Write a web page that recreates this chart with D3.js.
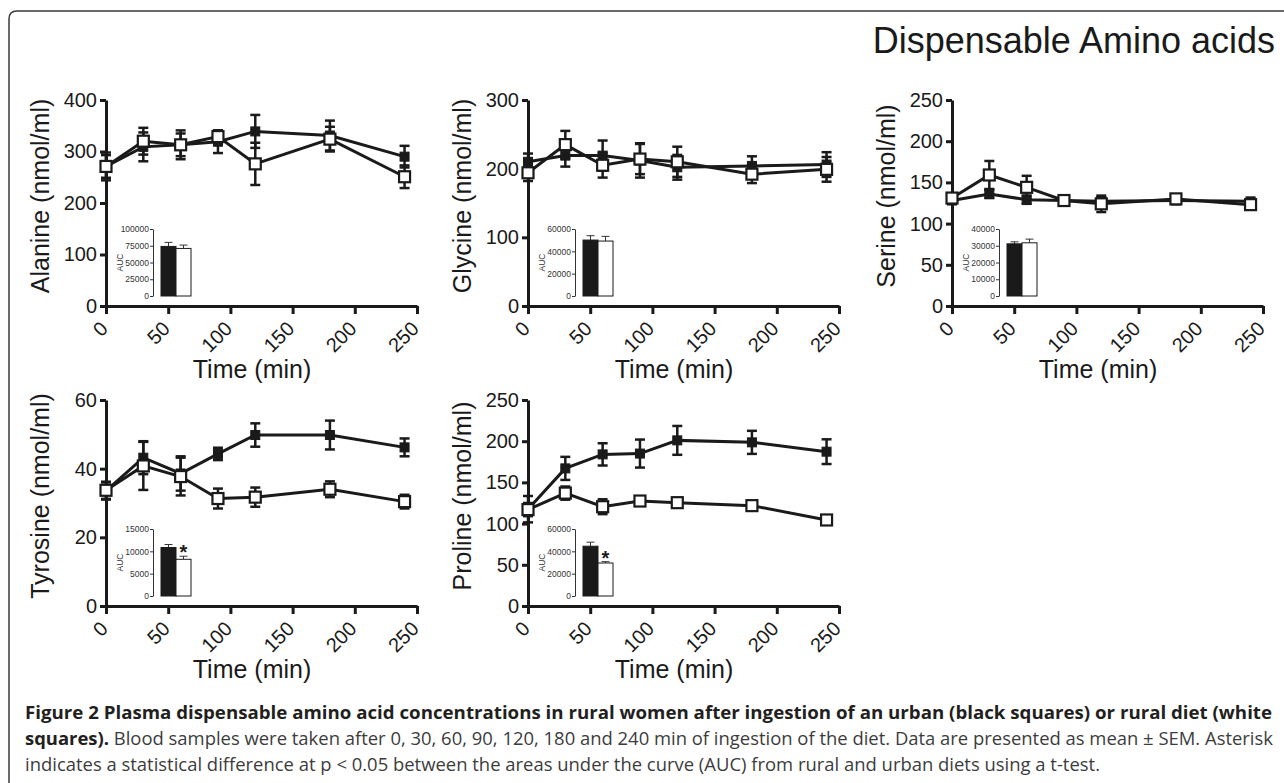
<!DOCTYPE html>
<html>
<head>
<meta charset="utf-8">
<script src="https://cdn.jsdelivr.net/npm/d3@7"></script>
<style>
  body { margin: 0; background: #fff; }
  svg { display: block; font-family: "Liberation Sans", Arial, sans-serif; }
</style>
</head>
<body>
<svg id="fig" width="1284" height="783"></svg>
<script>
// sampling times and axis ticks
const times = [0, 30, 60, 90, 120, 180, 240];
const timeTicks = [0, 50, 100, 150, 200, 250];

// plasma concentrations (nmol/ml), mean and SEM, urban = black, rural = white
const alanineUrban = [271, 309, 313, 319, 339, 331, 290];
const alanineUrbanSem = [27, 28, 22, 22, 32, 29, 21];
const alanineRural = [271, 320, 313, 329, 276, 324, 251];
const alanineRuralSem = [22, 26, 28, 12, 41, 24, 22];

const glycineUrban = [210, 219, 219, 212, 202, 204, 206];
const glycineUrbanSem = [12, 16, 22, 25, 18, 14, 18];
const glycineRural = [194, 235, 205, 214, 210, 192, 199];
const glycineRuralSem = [12, 20, 18, 22, 22, 13, 18];

const serineUrban = [128, 136, 129, 128, 127, 128, 127];
const serineUrbanSem = [3, 5, 5, 3, 5, 3, 3];
const serineRural = [131, 159, 144, 128, 124, 130, 123];
const serineRuralSem = [3, 17, 14, 4, 10, 3, 4];

const tyrosineUrban = [33.5, 43.2, 38.6, 44.3, 49.8, 49.8, 46.2];
const tyrosineUrbanSem = [2.5, 4.8, 5, 1.8, 3.4, 4.2, 2.6];
const tyrosineRural = [33.7, 40.8, 37.7, 31.3, 31.7, 34, 30.4];
const tyrosineRuralSem = [2.5, 7, 5.5, 2.9, 2.8, 2.3, 2];

const prolineUrban = [117.5, 167, 184, 185, 201, 198.6, 187.3];
const prolineUrbanSem = [16, 14, 13.5, 17, 17.5, 14, 15];
const prolineRural = [117, 137, 120.5, 127.4, 125.4, 121.8, 104.4];
const prolineRuralSem = [8, 8, 9, 3, 2, 3, 5];

// areas under the curve [urban, rural] and their SEM
const diets = ['urban', 'rural'];
const alanineAuc = [74000, 71000], alanineAucSem = [6000, 5000];
const glycineAuc = [50100, 49200], glycineAucSem = [3900, 4200];
const serineAuc = [31150, 31760], serineAucSem = [1200, 2200];
const tyrosineAuc = [10850, 8215], tyrosineAucSem = [680, 690];
const prolineAuc = [44600, 29550], prolineAucSem = [3600, 1200];

// tick labels
const alanineTicks = [0, 100, 200, 300, 400];
const glycineTicks = [0, 100, 200, 300];
const serineTicks = [0, 50, 100, 150, 200, 250];
const tyrosineTicks = [0, 20, 40, 60];
const prolineTicks = [0, 50, 100, 150, 200, 250];
const alanineAucTicks = [0, 25000, 50000, 75000, 100000];
const glycineAucTicks = [0, 20000, 40000, 60000];
const serineAucTicks = [0, 10000, 20000, 30000, 40000];
const tyrosineAucTicks = [0, 5000, 10000, 15000];
const prolineAucTicks = [0, 20000, 40000, 60000];
const significant = [false, false, false, true, true];

const panels = [
  { name: 'Alanine', urban: alanineUrban, urbanSem: alanineUrbanSem, rural: alanineRural, ruralSem: alanineRuralSem,
    ticks: alanineTicks, auc: alanineAuc, aucSem: alanineAucSem, aucTicks: alanineAucTicks },
  { name: 'Glycine', urban: glycineUrban, urbanSem: glycineUrbanSem, rural: glycineRural, ruralSem: glycineRuralSem,
    ticks: glycineTicks, auc: glycineAuc, aucSem: glycineAucSem, aucTicks: glycineAucTicks },
  { name: 'Serine', urban: serineUrban, urbanSem: serineUrbanSem, rural: serineRural, ruralSem: serineRuralSem,
    ticks: serineTicks, auc: serineAuc, aucSem: serineAucSem, aucTicks: serineAucTicks },
  { name: 'Tyrosine', urban: tyrosineUrban, urbanSem: tyrosineUrbanSem, rural: tyrosineRural, ruralSem: tyrosineRuralSem,
    ticks: tyrosineTicks, auc: tyrosineAuc, aucSem: tyrosineAucSem, aucTicks: tyrosineAucTicks },
  { name: 'Proline', urban: prolineUrban, urbanSem: prolineUrbanSem, rural: prolineRural, ruralSem: prolineRuralSem,
    ticks: prolineTicks, auc: prolineAuc, aucSem: prolineAucSem, aucTicks: prolineAucTicks },
];
panels.forEach((p, i) => { p.star = significant[i]; });

const ink = '#1a1a1a';
const colX = [106, 528, 952];
const rowY = [306, 606];
const plotW = 311, plotH = 206;

const svg = d3.select('#fig');

// rounded frame, clipped on the right and bottom
svg.append('path')
  .attr('d', 'M9,800 L9,19 Q9,11 17,11 L1300,11')
  .attr('fill', 'none')
  .attr('stroke', '#3a3a3a')
  .attr('stroke-width', 1.5);

svg.append('text')
  .attr('x', 1275).attr('y', 53)
  .attr('text-anchor', 'end')
  .attr('font-size', 36)
  .attr('fill', ink)
  .text('Dispensable Amino acids');

function drawPanel(p, x0, y0) {
  const g = svg.append('g');
  const x = d3.scaleLinear().domain([0, 250]).range([x0, x0 + plotW]);
  const y = d3.scaleLinear().domain([0, d3.max(p.ticks)]).range([y0, y0 - plotH]);

  // x axis
  const gx = g.append('g')
    .attr('transform', `translate(0,${y0})`)
    .call(d3.axisBottom(x).tickValues(timeTicks).tickSize(8).tickSizeOuter(0).tickFormat(''));
  gx.selectAll('text').remove();
  g.selectAll('.xlab')
    .data(timeTicks)
    .join('text')
    .attr('class', 'xlab')
    .attr('transform', d => `translate(${x(d) + 3},${y0 + 24}) rotate(-45)`)
    .attr('text-anchor', 'end')
    .attr('font-size', 20)
    .attr('fill', ink)
    .text(d => d);

  // y axis
  const gy = g.append('g')
    .attr('transform', `translate(${x0},0)`)
    .call(d3.axisLeft(y).tickValues(p.ticks).tickSize(6).tickPadding(3).tickSizeOuter(0));
  gy.attr('font-size', 20);
  gy.selectAll('text').attr('fill', ink);

  [gx, gy].forEach(a => {
    a.attr('font-family', null);
    a.select('.domain').attr('stroke', ink).attr('stroke-width', 3);
    a.selectAll('.tick line').attr('stroke', ink).attr('stroke-width', 3);
  });

  g.append('text')
    .attr('transform', `translate(${x0 - 57},${y0 - 110}) rotate(-90)`)
    .attr('text-anchor', 'middle')
    .attr('font-size', 25)
    .attr('fill', ink)
    .text(`${p.name} (nmol/ml)`);

  g.append('text')
    .attr('x', x0 + 146).attr('y', y0 + 72)
    .attr('text-anchor', 'middle')
    .attr('font-size', 25)
    .attr('fill', ink)
    .text('Time (min)');

  // series
  const series = [
    { key: 'urban', pts: times.map((t, i) => ({ t, v: p.urban[i], e: p.urbanSem[i] })) },
    { key: 'rural', pts: times.map((t, i) => ({ t, v: p.rural[i], e: p.ruralSem[i] })) },
  ];
  const line = d3.line().x(d => x(d.t)).y(d => y(d.v));
  const cap = 5;

  series.forEach(s => {
    const eb = g.append('g').selectAll('g').data(s.pts).join('g')
      .attr('stroke', ink).attr('stroke-width', 2.5);
    eb.append('line')
      .attr('x1', d => x(d.t)).attr('x2', d => x(d.t))
      .attr('y1', d => y(d.v - d.e)).attr('y2', d => y(d.v + d.e));
    eb.append('line')
      .attr('x1', d => x(d.t) - cap).attr('x2', d => x(d.t) + cap)
      .attr('y1', d => y(d.v + d.e)).attr('y2', d => y(d.v + d.e));
    eb.append('line')
      .attr('x1', d => x(d.t) - cap).attr('x2', d => x(d.t) + cap)
      .attr('y1', d => y(d.v - d.e)).attr('y2', d => y(d.v - d.e));
  });
  series.forEach(s => {
    g.append('path')
      .datum(s.pts)
      .attr('d', line)
      .attr('fill', 'none')
      .attr('stroke', ink)
      .attr('stroke-width', 3);
  });
  series.forEach(s => {
    const size = s.key === 'urban' ? 9 : 11;
    g.append('g').selectAll('rect').data(s.pts).join('rect')
      .attr('x', d => x(d.t) - size / 2)
      .attr('y', d => y(d.v) - size / 2)
      .attr('width', size).attr('height', size)
      .attr('fill', s.key === 'urban' ? ink : '#fff')
      .attr('stroke', ink)
      .attr('stroke-width', s.key === 'urban' ? 1 : 2.2);
  });

  // AUC inset
  const ax = x0 + 47;
  const iy = d3.scaleLinear().domain([0, d3.max(p.aucTicks)]).range([y0 - 10, y0 - 77]);
  const ib = d3.scaleBand().domain(diets).range([ax + 8, ax + 38]);
  const inset = g.append('g');
  const ia = inset.append('g')
    .attr('transform', `translate(${ax},0)`)
    .call(d3.axisLeft(iy).tickValues(p.aucTicks).tickSize(3).tickPadding(1).tickSizeOuter(0).tickFormat(d3.format('d')));
  ia.attr('font-family', null).attr('font-size', 8.5);
  ia.select('.domain').attr('stroke', '#333').attr('stroke-width', 1);
  ia.selectAll('.tick line').attr('stroke', '#333');
  ia.selectAll('text').attr('fill', '#333');

  inset.append('text')
    .attr('transform', `translate(${ax - 30},${(iy.range()[0] + iy.range()[1]) / 2}) rotate(-90)`)
    .attr('text-anchor', 'middle')
    .attr('font-size', 8.5)
    .attr('fill', '#333')
    .text('AUC');

  const bars = diets.map((k, i) => ({ k, v: p.auc[i], e: p.aucSem[i] }));
  inset.selectAll('.err').data(bars).join('path')
    .attr('class', 'err')
    .attr('d', d => {
      const cx = ib(d.k) + ib.bandwidth() / 2;
      return `M${cx},${iy(d.v)}V${iy(d.v + d.e)}M${cx - 4},${iy(d.v + d.e)}H${cx + 4}`;
    })
    .attr('stroke', '#333').attr('stroke-width', 1).attr('fill', 'none');
  inset.selectAll('.bar').data(bars).join('rect')
    .attr('class', 'bar')
    .attr('x', d => ib(d.k))
    .attr('y', d => iy(d.v))
    .attr('width', ib.bandwidth())
    .attr('height', d => iy(0) - iy(d.v))
    .attr('fill', d => d.k === 'urban' ? ink : '#fff')
    .attr('stroke', ink).attr('stroke-width', 1);

  if (p.star) {
    const r = bars[1];
    inset.append('text')
      .attr('x', ib(r.k) + ib.bandwidth() / 2)
      .attr('y', iy(r.v + r.e) + 3)
      .attr('text-anchor', 'middle')
      .attr('font-size', 20)
      .attr('font-weight', 'bold')
      .attr('fill', ink)
      .text('*');
  }
}

panels.forEach((p, i) => drawPanel(p, colX[i % 3], rowY[Math.floor(i / 3)]));

// caption
const cap = svg.append('g')
  .attr('font-family', '"Open Sans", "Noto Sans", sans-serif')
  .attr('font-size', 18.5);
cap.append('text').attr('x', 25).attr('y', 719)
  .attr('textLength', 1247).attr('lengthAdjust', 'spacingAndGlyphs')
  .attr('font-weight', 'bold').attr('fill', '#231f20')
  .text('Figure 2 Plasma dispensable amino acid concentrations in rural women after ingestion of an urban (black squares) or rural diet (white');
const l2 = cap.append('text').attr('x', 25).attr('y', 745)
  .attr('textLength', 1248).attr('lengthAdjust', 'spacingAndGlyphs')
  .attr('fill', '#3c3c3c');
l2.append('tspan').attr('font-weight', 'bold').attr('fill', '#231f20').text('squares).');
l2.append('tspan').text(' Blood samples were taken after 0, 30, 60, 90, 120, 180 and 240 min of ingestion of the diet. Data are presented as mean \u00b1 SEM. Asterisk');
cap.append('text').attr('x', 25).attr('y', 771)
  .attr('textLength', 1075).attr('lengthAdjust', 'spacingAndGlyphs')
  .attr('fill', '#3c3c3c')
  .text('indicates a statistical difference at p < 0.05 between the areas under the curve (AUC) from rural and urban diets using a t-test.');
</script>
</body>
</html>
